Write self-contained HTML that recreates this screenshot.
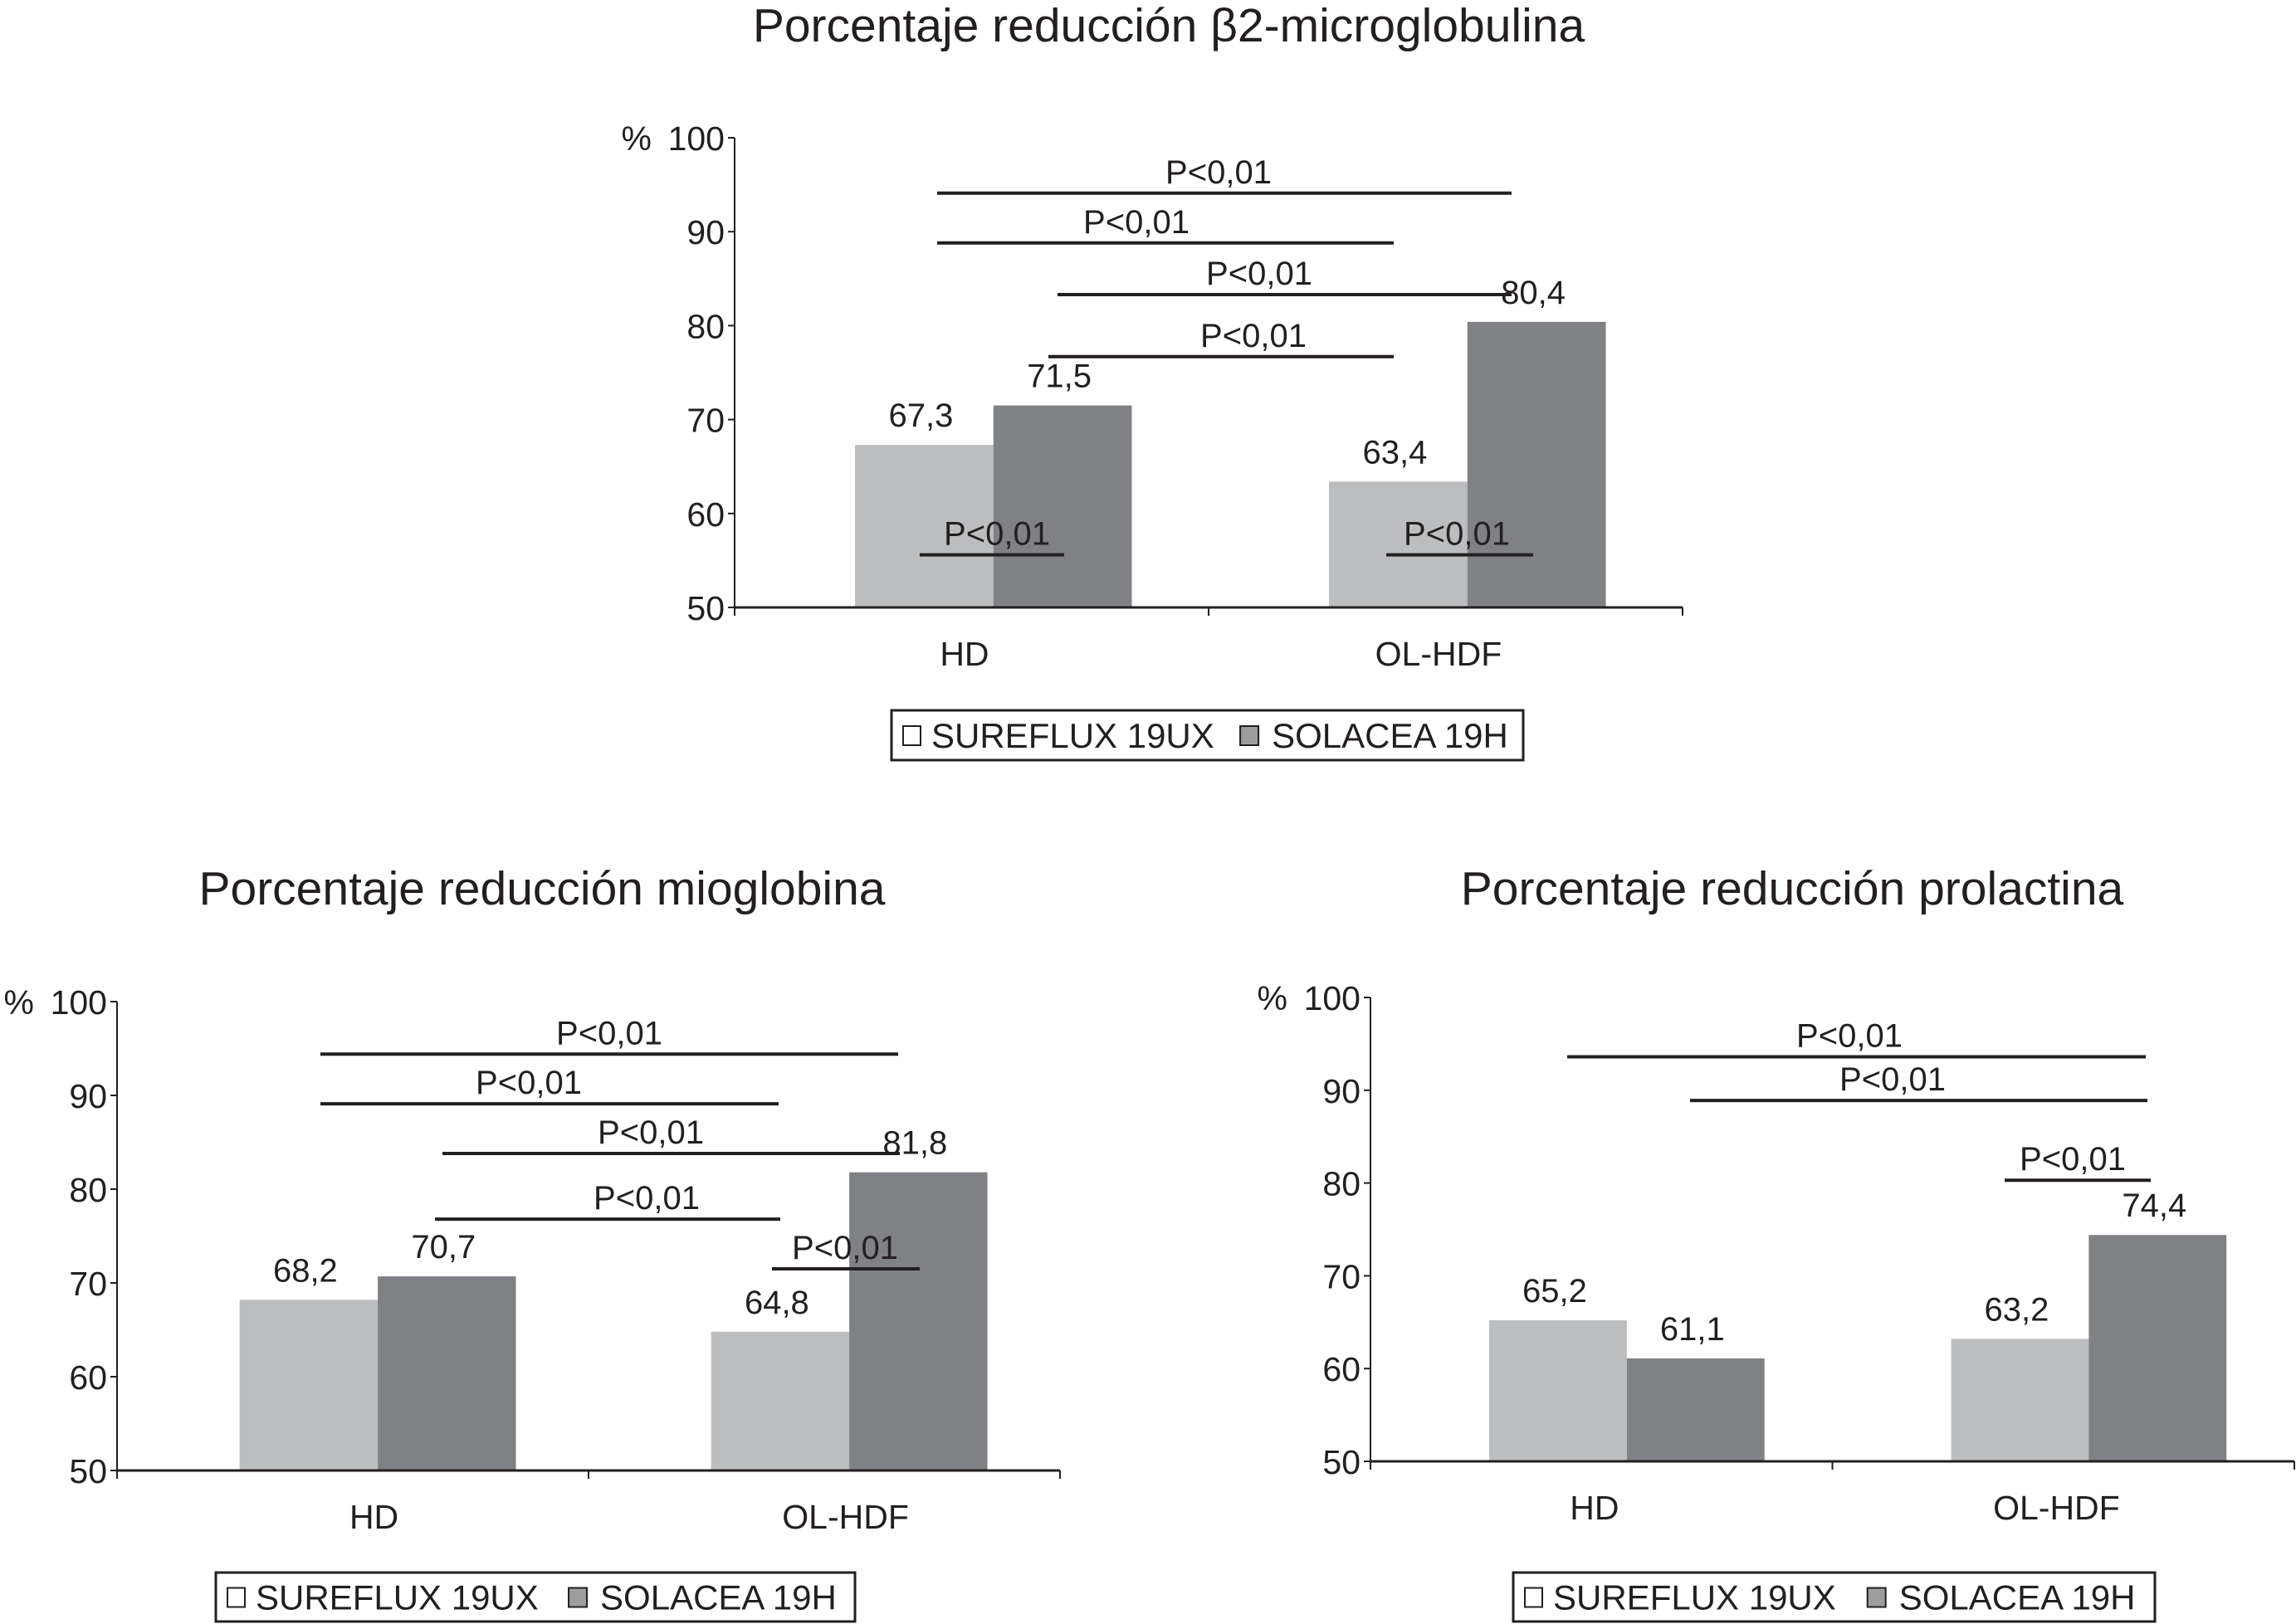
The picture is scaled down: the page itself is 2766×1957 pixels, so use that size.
<!DOCTYPE html>
<html><head><meta charset="utf-8"><style>
html,body{margin:0;padding:0;background:#fff;}
svg{display:block;font-family:"Liberation Sans",Arial,sans-serif;fill:#231f20;}
</style></head><body>
<svg id="fig" width="2766" height="1957" viewBox="0 0 2766 1957"></svg>
<script>
const categories = ["HD", "OL-HDF"];
const seriesNames = ["SUREFLUX 19UX", "SOLACEA 19H"];
const b2Sureflux = [67.3, 63.4];
const b2Solacea = [71.5, 80.4];
const mioSureflux = [68.2, 64.8];
const mioSolacea = [70.7, 81.8];
const proSureflux = [65.2, 63.2];
const proSolacea = [61.1, 74.4];
const yTicks = [50, 60, 70, 80, 90, 100];
const valueLabelsB2 = ["67,3", "63,4", "71,5", "80,4"];
const valueLabelsMio = ["68,2", "64,8", "70,7", "81,8"];
const valueLabelsPro = ["65,2", "63,2", "61,1", "74,4"];
// significance annotations: [value level, x1, x2, labelX]
const sigB2 = [[94.1,1129,1821,1468],[88.8,1129,1679,1369],[83.3,1274,1821,1517],[76.7,1263,1679,1510],[55.6,1108,1282,1201],[55.6,1670,1847,1755]];
const sigMio = [[94.4,386,1082,734],[89.1,386,938,637],[83.8,533,1084,784],[76.8,524,940,779],[71.5,930,1108,1018]];
const sigPro = [[93.6,1888,2585,2228],[88.9,2036,2587,2280],[80.3,2415,2591,2497]];

const NS = "http://www.w3.org/2000/svg";
const svg = document.getElementById("fig");
function mk(tag, attrs, parent, text){
  const e = document.createElementNS(NS, tag);
  for (const k in attrs) e.setAttribute(k, attrs[k]);
  if (text !== undefined) e.textContent = text;
  (parent || svg).appendChild(e);
  return e;
}

function drawChart(cfg){
  const g = mk("g", {});
  
  
  const yScale = v => cfg.y50 + (v - 50) / 50 * (cfg.y100 - cfg.y50);
  const catW = (cfg.xEnd - cfg.x0) / categories.length;
  const catX = i => cfg.x0 + i * catW;
  const barW = catW * cfg.barFrac;
  const barOff = catW * cfg.offFrac;

  const t = mk("text", {x: cfg.titleX, y: cfg.titleY, "font-size": 57, "text-anchor": "middle"}, g, cfg.title);
  
  

  const series = [cfg.s1, cfg.s2];
  const colors = ["#bcbdbf", "#808184"];
  series.forEach((arr, si) => {
    arr.forEach((v, ci) => {
      const x = catX(ci) + barOff + si * barW;
      const r = mk("rect", {x: x, y: yScale(v), width: barW, height: yScale(50) - yScale(v), fill: colors[si]}, g);
      
      
      const lbl = mk("text", {x: x + barW/2 - 4, y: yScale(v) - 22, "font-size": 40, "text-anchor": "middle"}, g, cfg.labels[si*2+ci]);
      
      
    });
  });

  const ya = mk("line", {x1: cfg.x0, y1: cfg.y100, x2: cfg.x0, y2: cfg.y50, stroke: "#231f20", "stroke-width": 2}, g);
  
  
  const xa = mk("line", {x1: cfg.x0, y1: cfg.y50, x2: cfg.xEnd, y2: cfg.y50, stroke: "#231f20", "stroke-width": 3}, g);
  
  
  yTicks.forEach(v => {
    mk("line", {x1: cfg.x0 - 8, y1: yScale(v), x2: cfg.x0, y2: yScale(v), stroke: "#231f20", "stroke-width": 2}, g);
    const tl = mk("text", {x: cfg.x0 - 12, y: yScale(v) + 15, "font-size": 41, "text-anchor": "end"}, g, String(v));
    
    
  });
  const pc = mk("text", {x: cfg.x0 - 100, y: yScale(100) + 15, "font-size": 41, "text-anchor": "end"}, g, "%");
  
  
  for (let i = 0; i <= categories.length; i++) {
    mk("line", {x1: catX(i), y1: cfg.y50, x2: catX(i), y2: cfg.y50 + 10, stroke: "#231f20", "stroke-width": 2}, g);
  }
  categories.forEach((c, ci) => {
    const cl = mk("text", {x: catX(ci) + catW * cfg.lblFrac, y: cfg.y50 + 70, "font-size": 41, "text-anchor": "middle"}, g, c);
    
    
  });

  cfg.sig.forEach(s => {
    const y = yScale(s[0]);
    const ln = mk("line", {x1: s[1], y1: y, x2: s[2], y2: y, stroke: "#231f20", "stroke-width": 4}, g);
    
    
    const st = mk("text", {x: s[3], y: y - 12, "font-size": 40, "text-anchor": "middle"}, g, "P<0,01");
    
    
  });

  const L = cfg.legend;
  const lg = mk("g", {}, g);
  
  
  mk("rect", {x: L[0], y: L[1], width: L[2]-L[0], height: L[3]-L[1], fill: "#fff", stroke: "#231f20", "stroke-width": 3}, lg);
  const cy = (L[1] + L[3]) / 2;
  const w = L[2] - L[0];
  const e1 = mk("g", {}, lg);
  
  
  mk("rect", {x: L[0] + 14, y: cy - 11, width: 21, height: 23, fill: "#fff", stroke: "#231f20", "stroke-width": 2}, e1);
  mk("text", {x: L[0] + 48, y: cy + 15, "font-size": 42}, e1, seriesNames[0]);
  const e2 = mk("g", {}, lg);
  
  
  mk("rect", {x: L[0] + w*0.552, y: cy - 11, width: 22, height: 23, fill: "#9d9d9f", stroke: "#231f20", "stroke-width": 2}, e2);
  mk("text", {x: L[0] + w*0.552 + 38, y: cy + 15, "font-size": 42}, e2, seriesNames[1]);
}

drawChart({name: "chart-b2-microglobulina", title: "Porcentaje reducción β2-microglobulina", titleX: 1408, titleY: 50,
  x0: 885, xEnd: 2027, y100: 166, y50: 732, barFrac: 0.292, offFrac: 0.254, lblFrac: 0.485, s1: b2Sureflux, s2: b2Solacea, labels: valueLabelsB2, sig: sigB2,
  legend: [1074, 856, 1835, 916]});
drawChart({name: "chart-mioglobina", title: "Porcentaje reducción mioglobina", titleX: 653, titleY: 1090,
  x0: 141, xEnd: 1277, y100: 1207, y50: 1772, barFrac: 0.293, offFrac: 0.26, lblFrac: 0.545, s1: mioSureflux, s2: mioSolacea, labels: valueLabelsMio, sig: sigMio,
  legend: [260, 1895, 1030, 1954]});
drawChart({name: "chart-prolactina", title: "Porcentaje reducción prolactina", titleX: 2159, titleY: 1090,
  x0: 1651, xEnd: 2764, y100: 1202, y50: 1761, barFrac: 0.298, offFrac: 0.257, lblFrac: 0.485, s1: proSureflux, s2: proSolacea, labels: valueLabelsPro, sig: sigPro,
  legend: [1823, 1895, 2596, 1954]});
</script>
</body></html>
